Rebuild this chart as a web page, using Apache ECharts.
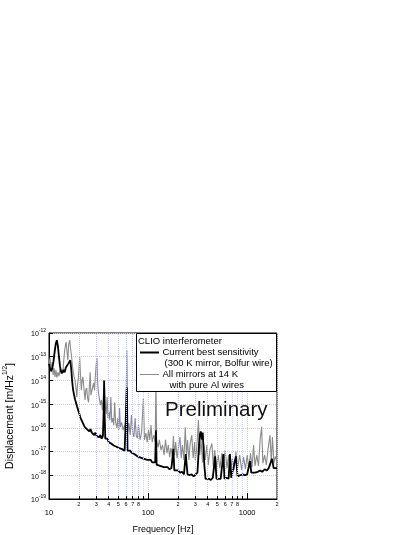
<!DOCTYPE html>
<html><head><meta charset="utf-8">
<script src="https://cdn.jsdelivr.net/npm/echarts@6/dist/echarts.min.js"></script>
<style>html,body{margin:0;padding:0;background:#fff}#c{width:414px;height:535px}</style>
</head><body><div id="c"></div>
<script>
// ---- data (frequency in Hz, displacement in m/Hz^1/2) ----
const grayFreq = [
  10,10.25,10.5,10.75,11,11.25,11.5,11.75,12,12.3,
  12.6,12.9,13.2,13.5,13.8,14.1,14.4,14.7,14.9,15.2,
  15.5,15.8,16.2,16.5,16.9,17.2,17.6,18,18.3,18.7,
  19.1,19.4,19.7,20.1,20.4,20.8,21.2,21.6,22,22.7,
  23.1,23.5,24,24.5,25.1,25.6,26,26.5,27,27.5,
  28.2,28.8,29.4,30.1,30.5,30.8,31.5,32.2,33,33.8,
  34.6,35.4,36.2,37,37.8,38.6,39.4,40.3,41.2,42.1,
  43,44,45,46,47,48.5,49.5,50.5,51.5,52.5,
  54,56,58,59.5,61,62.5,64,66,68,70,
  72,74,76,78,80,83,86,89.6,92,95,
  98,101,104,107,110,114,118,120,122,126,
  130,135,140,145,150,155,160,165,170,176,
  180,185,190,196,202,210,216,222,230,237,
  244,250,258,266,276,285,295,300,310,322,
  332,342,355,365,378,392,405,420,441,455,
  470,490,510,530,555,575,600,625,650,680,
  710,740,770,800,840,880,920,960,1000,1040,
  1080,1120,1160,1200,1250,1300,1350,1400,1440,1500,
  1560,1620,1700,1750,1800,1860,1920,2000
];
const grayVal = [
  4.5e-14,8.9e-14,2.2e-14,6.0e-14,1.7e-14,3.3e-14,1.4e-14,2.8e-14,1.3e-14,2.2e-14,
  1.5e-14,3.0e-14,1.9e-14,2.8e-14,2.2e-14,7.2e-14,1.9e-13,3.2e-13,4.2e-13,1.6e-13,
  7.2e-14,3.2e-13,5.0e-13,2.3e-13,1.0e-13,4.5e-14,2.2e-14,1.3e-14,1.05e-14,4.8e-15,
  2.0e-15,6.5e-15,1.05e-14,3.3e-14,1.0e-13,1.7e-14,3.9e-15,1.05e-14,1.4e-14,3.2e-15,
  1.5e-15,3.9e-15,4.8e-15,1.8e-15,1.2e-15,6.5e-15,2.2e-14,2.4e-15,2.0e-15,4.8e-15,
  7.8e-15,3.9e-15,1.7e-14,6.0e-14,8.9e-14,1.3e-14,3.2e-15,1.8e-15,9.1e-16,1.5e-15,
  5.6e-16,2.4e-15,6.5e-15,9.1e-16,3.8e-16,2.0e-15,2.6e-16,4.7e-16,2.1e-16,2.0e-15,
  1.7e-16,2.6e-16,1.3e-16,1.2e-15,1.7e-16,1.0e-16,2.6e-16,8.1e-17,6.8e-16,1.07e-16,
  1.7e-16,8.1e-17,1.3e-16,6.6e-17,1.9e-13,6.6e-17,1.6e-16,5.0e-17,3.5e-16,6.6e-17,
  4.1e-17,2.6e-16,4.5e-17,3.7e-17,1.3e-16,3.1e-17,6.6e-17,1.8e-15,3.1e-17,6.0e-17,
  2.5e-17,8.1e-17,3.1e-17,1.3e-16,2.5e-17,5.0e-17,2.5e-17,1.3e-14,3.1e-17,1.5e-17,
  3.1e-17,1.15e-17,1.9e-17,7.1e-18,3.1e-17,8.5e-18,1.9e-17,5.8e-18,1.4e-17,6.3e-18,
  4.5e-17,7.1e-18,2.5e-17,5.2e-18,1.4e-17,4.1e-17,5.2e-18,1.9e-17,4.4e-18,1.07e-16,
  7.1e-18,3.1e-17,4.4e-18,2.2e-17,5.0e-17,5.2e-18,2.5e-17,4.4e-18,1.4e-17,2.1e-16,
  7.1e-18,3.1e-17,3.5e-18,2.2e-17,4.4e-18,1.9e-17,2.7e-18,1.15e-17,2.2e-17,2.5e-18,
  1.15e-17,2.2e-18,7.1e-18,2.0e-18,8.5e-18,2.2e-18,1.15e-17,2.0e-18,7.1e-18,1.7e-18,
  5.2e-18,1.7e-18,1.0e-17,2.0e-18,7.1e-18,1.7e-18,5.8e-18,1.8e-18,7.1e-18,2.0e-18,
  8.5e-18,2.2e-18,1.9e-17,2.5e-18,7.1e-18,2.5e-18,3.1e-17,1.1e-16,3.2e-18,7.1e-18,
  2.7e-18,1.15e-17,5.0e-17,3.5e-18,4.1e-17,3.2e-18,6.3e-18,3.5e-18
];
const blackFreq = [
  10,10.2,10.5,10.8,11.1,11.4,11.7,12.0,12.3,12.6,
  12.9,13.2,13.6,14.0,14.4,14.8,15.2,15.6,16.0,16.4,
  16.8,17.1,17.5,17.9,18.3,18.8,19.2,19.7,20.2,20.7,
  21.2,21.7,22.3,22.9,23.5,24.1,24.8,25.5,26.2,27,
  27.8,28.6,29.4,30.3,31.2,32.1,33,34,35,35.7,
  36.0,36.4,37,38,39,40,41.2,42.4,43.6,45,
  46.4,48,49.5,51,52.5,54,56,58,60,61,
  62,64,66,68,70,72.5,75,78,81,84,
  87,90,94,98,102,106,110,114,118,120,
  122,127,132,138,144,150,157,164,172,180,
  184,192,200,210,220,230,240,250,262,275,
  288,300,315,325,332,340,348,356,362,370,
  380,395,410,430,450,475,490,510,540,575,
  590,620,650,670,690,720,770,800,850,900,
  950,1000,1070,1100,1150,1200,1280,1350,1420,1500,
  1580,1650,1780,1850,1920,2000
];
const blackVal = [
  5.0e-14,3.5e-14,2.5e-14,3.2e-14,6.3e-14,1.6e-13,3.5e-13,5.0e-13,2.8e-13,1.0e-13,
  4.0e-14,2.5e-14,2.0e-14,2.8e-14,2.2e-14,3.5e-14,3.2e-14,5.0e-14,4.5e-14,7.1e-14,
  2.8e-14,1.0e-14,4.0e-15,2.5e-15,1.6e-15,1.1e-15,7.9e-16,5.6e-16,4.0e-16,2.8e-16,
  2.2e-16,1.8e-16,1.6e-16,1.1e-16,1.3e-16,8.9e-17,1.0e-16,7.1e-17,8.9e-17,6.3e-17,
  7.1e-17,5.0e-17,6.3e-17,4.5e-17,5.0e-17,4.0e-17,5.0e-17,3.5e-17,4.5e-17,6.3e-16,
  1.0e-14,4.0e-16,3.5e-17,3.2e-17,3.5e-17,2.5e-17,2.8e-17,2.2e-17,2.5e-17,1.8e-17,
  2.0e-17,1.6e-17,1.8e-17,1.4e-17,1.6e-17,1.3e-17,1.4e-17,1.1e-17,1.3e-17,5.0e-15,
  1.1e-17,1.0e-17,1.1e-17,8.9e-18,1.0e-17,7.9e-18,8.9e-18,6.3e-18,7.1e-18,5.6e-18,
  6.3e-18,5.0e-18,5.6e-18,4.5e-18,4.0e-18,4.5e-18,3.5e-18,3.2e-18,3.5e-18,7.9e-17,
  2.8e-18,3.2e-18,2.5e-18,2.8e-18,2.2e-18,2.0e-18,2.2e-18,1.8e-18,2.0e-18,1.3e-17,
  1.6e-18,1.4e-18,1.6e-18,1.3e-18,1.4e-18,1.1e-18,7.9e-18,1.1e-18,1.0e-18,1.1e-18,
  8.9e-19,1.0e-18,1.3e-18,1.3e-17,5.0e-17,7.1e-17,3.2e-17,6.3e-17,1.6e-17,2.5e-18,
  7.1e-19,6.3e-19,7.1e-19,6.3e-19,7.9e-19,6.3e-18,7.1e-19,6.3e-19,7.1e-19,7.9e-18,
  7.1e-19,7.9e-19,7.1e-19,7.9e-18,7.9e-19,8.9e-19,6.3e-18,8.9e-19,1.0e-18,1.1e-18,
  1.0e-18,1.1e-18,4.0e-18,1.3e-18,1.4e-18,1.3e-18,1.4e-18,1.6e-18,1.4e-18,1.8e-18,
  1.6e-18,2.0e-18,5.0e-18,2.0e-18,2.2e-18,2.0e-18
];
const xMin = 10, xMax = 2000;
const yMin = 1e-19, yMax = 1e-12;
const majorXLabels = [10, 100, 1000];
const minorX = [20,30,40,50,60,70,80,90,200,300,400,500,600,700,800,900];
const edgeMinorLabel = [2000];
const seriesNames = ['Current best sensitivity', 'All mirrors at 14 K'];
const legendTitle = 'CLIO interferometer';
const legendLines = [
  ['Current best sensitivity', '(300 K mirror, Bolfur wire)'],
  ['All mirrors at 14 K', 'with pure Al wires']
];
const watermark = 'Preliminary';

const FONT = '"Liberation Sans", Arial, Helvetica, sans-serif';
const GRIDC = '#cacaf2';
const zip = (a, b) => a.map((v, i) => [v, b[i]]);
const lead = f => Math.round(f / Math.pow(10, Math.floor(Math.log10(f) + 1e-9)));
const minorLabelFmt = p => { const d = lead(p.value); return d <= 8 ? String(d) : ''; };
const minorLabelStyle = {show: true, position: 'start', distance: 2, formatter: minorLabelFmt, fontSize: 5.5, color: '#000', fontFamily: FONT};

const chart = echarts.init(document.getElementById('c'), null, {renderer: 'canvas'});
chart.setOption({
  animation: false,
  backgroundColor: '#fff',
  textStyle: {fontFamily: FONT},
  grid: {left: 49, top: 333, width: 228, height: 166, show: true, borderColor: '#000', borderWidth: 1,
         backgroundColor: 'transparent', containLabel: false, outerBoundsMode: 'none'},
  xAxis: {
    type: 'log', logBase: 10, min: xMin, max: xMax,
    name: 'Frequency [Hz]', nameLocation: 'middle', nameGap: 26,
    nameTextStyle: {fontSize: 9, color: '#000', fontFamily: FONT},
    axisLine: {lineStyle: {color: '#000', width: 1}},
    axisTick: {inside: true, length: 6, lineStyle: {color: '#000'}},
    axisLabel: {
      fontSize: 7.5, color: '#000', margin: 10, fontFamily: FONT, showMaxLabel: false,
      formatter: v => majorXLabels.some(m => Math.abs(m - v) < 1e-6 * m) ? String(Math.round(v)) : ''
    },
    splitLine: {show: true, lineStyle: {color: GRIDC, type: 'dotted', width: 1}},
    minorTick: {show: false}
  },
  yAxis: {
    type: 'log', logBase: 10, min: yMin, max: yMax, splitNumber: 7,
    name: '{a|Displacement [m/Hz}{s|1/2}{a|]}', nameLocation: 'middle', nameGap: 33, nameRotate: 90,
    nameTextStyle: {
      color: '#000', fontFamily: FONT,
      rich: {
        a: {fontSize: 10.5, fontFamily: FONT, color: '#000', lineHeight: 14, verticalAlign: 'bottom'},
        s: {fontSize: 6.5, fontFamily: FONT, color: '#000', lineHeight: 14, verticalAlign: 'top'}
      }
    },
    axisLine: {lineStyle: {color: '#000', width: 1}},
    axisTick: {inside: true, length: 4, lineStyle: {color: '#000'}},
    axisLabel: {
      margin: 3, color: '#000',
      formatter: v => '{b|10}{s|' + Math.round(Math.log10(v)) + '}',
      rich: {
        b: {fontSize: 7, fontFamily: FONT, color: '#000', lineHeight: 10, verticalAlign: 'bottom'},
        s: {fontSize: 5, fontFamily: FONT, color: '#000', lineHeight: 10, verticalAlign: 'top'}
      }
    },
    splitLine: {show: true, lineStyle: {color: GRIDC, type: 'dotted', width: 1}}
  },
  series: [
    {
      name: 'gridlines', type: 'line', data: [[xMin, yMin]], showSymbol: false, silent: true, z: 1,
      lineStyle: {width: 0},
      markLine: {
        silent: true, symbol: ['none', 'none'], animation: false,
        lineStyle: {color: GRIDC, type: 'dotted', width: 1},
        label: minorLabelStyle,
        emphasis: {disabled: true},
        data: minorX.map(f => ({xAxis: f}))
          .concat(edgeMinorLabel.map(f => ({xAxis: f, lineStyle: {color: 'rgba(0,0,0,0)'}})))
      }
    },
    {
      name: 'minorticks', type: 'line', data: [[xMin, yMin]], showSymbol: false, silent: true, z: 4,
      lineStyle: {width: 0},
      markLine: {
        silent: true, symbol: ['none', 'none'], animation: false,
        lineStyle: {color: '#000', type: 'solid', width: 1},
        label: {show: false},
        emphasis: {disabled: true},
        data: minorX.map(f => [{coord: [f, yMin]}, {coord: [f, 1.35e-19]}])
      }
    },
    {
      name: seriesNames[1], type: 'line', data: zip(grayFreq, grayVal),
      showSymbol: false, symbol: 'none', z: 2,
      lineStyle: {color: '#8c8c8c', width: 1.1}
    },
    {
      name: seriesNames[0], type: 'line', data: zip(blackFreq, blackVal),
      showSymbol: false, symbol: 'none', z: 3,
      lineStyle: {color: '#000', width: 1.8}
    }
  ],
  graphic: [
    {type: 'rect', z: 100, shape: {x: 136.5, y: 333.5, width: 140, height: 58}, style: {fill: '#fff', stroke: '#000', lineWidth: 1}},
    {type: 'text', z: 101, x: 138, y: 341.5, style: {text: legendTitle, font: '9.5px ' + FONT, fill: '#000', verticalAlign: 'middle'}},
    {type: 'line', z: 101, shape: {x1: 140, y1: 352.5, x2: 159, y2: 352.5}, style: {stroke: '#000', lineWidth: 2}},
    {type: 'text', z: 101, x: 162.5, y: 352.5, style: {text: legendLines[0][0], font: '9.5px ' + FONT, fill: '#000', verticalAlign: 'middle'}},
    {type: 'text', z: 101, x: 164.5, y: 363.5, style: {text: legendLines[0][1], font: '9.5px ' + FONT, fill: '#000', verticalAlign: 'middle'}},
    {type: 'line', z: 101, shape: {x1: 140, y1: 374.5, x2: 159, y2: 374.5}, style: {stroke: '#8c8c8c', lineWidth: 1}},
    {type: 'text', z: 101, x: 162.5, y: 374, style: {text: legendLines[1][0], font: '9.5px ' + FONT, fill: '#000', verticalAlign: 'middle'}},
    {type: 'text', z: 101, x: 169.5, y: 385, style: {text: legendLines[1][1], font: '9.5px ' + FONT, fill: '#000', verticalAlign: 'middle'}},
    {type: 'text', z: 101, x: 165, y: 410, style: {text: watermark, font: '20.5px ' + FONT, fill: '#111', verticalAlign: 'middle'}}
  ]
});
</script>
</body></html>
